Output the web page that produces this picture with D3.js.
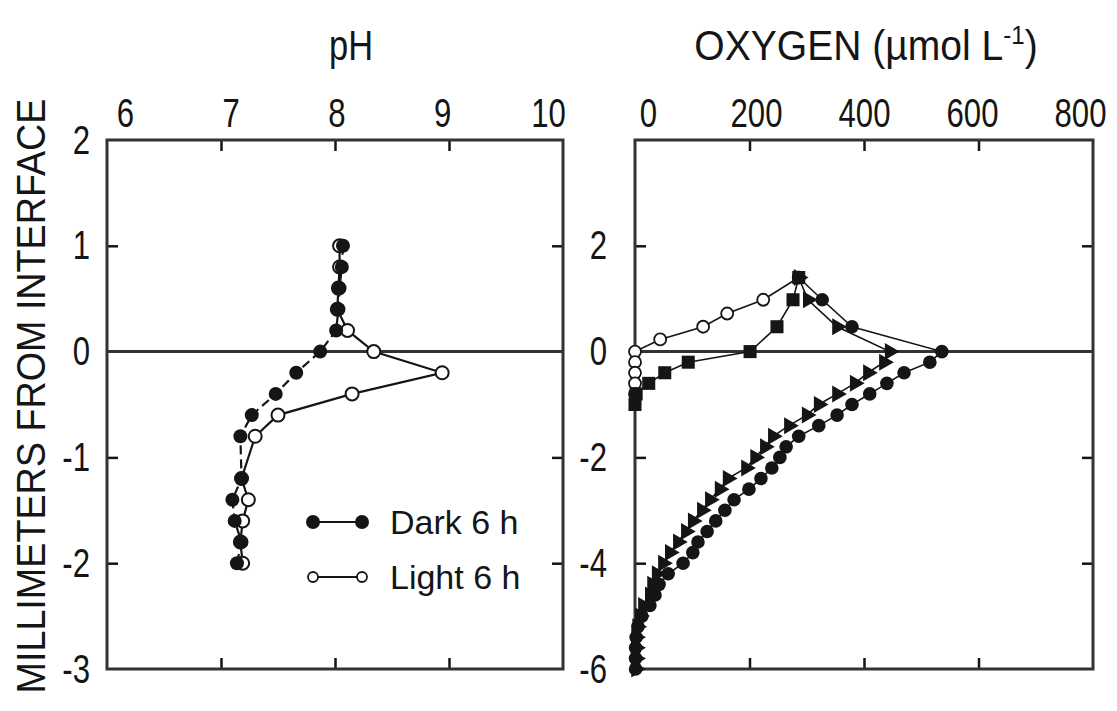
<!DOCTYPE html>
<html>
<head>
<meta charset="utf-8">
<script src="https://cdn.jsdelivr.net/npm/d3@7"></script>
<style>
  body { margin: 0; background: #fff; }
  svg text { fill: #151515; }
</style>
</head>
<body>
<svg id="chart" width="1117" height="711"></svg>
<script>
'use strict';

// ─── Data: pH panel ──────────────────────────────────────────────────────────
const phTicks  = [6, 7, 8, 9, 10];
const phDepthL = [2, 1, 0, -1, -2, -3];
const phDepth  = [1.0, 0.8, 0.6, 0.4, 0.2, 0, -0.2, -0.4, -0.6, -0.8, -1.2, -1.4, -1.6, -1.8, -2.0];
const phDark   = [8.07, 8.06, 8.04, 8.03, 8.01, 7.87, 7.66, 7.48, 7.27, 7.17, 7.18, 7.10, 7.12, 7.18, 7.14];
const phLight  = [8.04, 8.04, 8.03, 8.02, 8.11, 8.34, 8.94, 8.15, 7.50, 7.30, 7.18, 7.24, 7.19, 7.17, 7.19];
const legendLabels = ['Dark 6 h', 'Light 6 h'];

// ─── Data: oxygen panel ──────────────────────────────────────────────────────
const o2Ticks  = [0, 200, 400, 600, 800];
const o2DepthL = [2, 0, -2, -4, -6];
const openDepth = [1.4, 0.98, 0.72, 0.47, 0.23, 0, -0.2, -0.4, -0.6, -0.8];
const openO2    = [286, 224, 161, 119, 44, 0, 0, 0, 0, 0];
const squareDepth = [1.4, 0.98, 0.47, 0, -0.2, -0.4, -0.6, -0.8, -1.0];
const squareO2    = [286, 276, 248, 201, 93, 52, 24, 2, 0];
const profDepth = [1.4, 0.98, 0.47, 0, -0.2, -0.4, -0.6, -0.8, -1.0, -1.2, -1.4, -1.6, -1.8,
  -2.0, -2.2, -2.4, -2.6, -2.8, -3.0, -3.2, -3.4, -3.6, -3.8, -4.0, -4.2, -4.4, -4.6,
  -4.8, -5.0, -5.2, -5.4, -5.6, -5.8, -6.0];
const circleO2 = [286, 327, 379, 536, 515, 470, 440, 410, 379, 353, 321, 286, 264,
  253, 239, 220, 199, 173, 157, 141, 126, 110, 101, 84, 58, 42, 35,
  26, 12, 5, 2, 1, 1, 1];
const triangleO2 = [286, 302, 353, 445, 435, 407, 384, 353, 321, 300, 269, 241, 227,
  210, 194, 162, 148, 131, 117, 101, 89, 75, 61, 49, 38, 30, 26,
  14, 9, 4, 2, 2, 2, 2];

// ─── Layout ──────────────────────────────────────────────────────────────────
const INK   = '#151515';
const FRAME = '#333';
const yTop = 140, yBot = 669;
const L = { x0: 107, x1: 563 };
const R = { x0: 635, x1: 1093 };

const xPH  = d3.scaleLinear().domain([6, 10]).range([L.x0, L.x1]);
const yL   = d3.scaleLinear().domain([-3, 2]).range([yBot, yTop]);
const xO2  = d3.scaleLinear().domain([0, 800]).range([R.x0, R.x1]);
const yR   = d3.scaleLinear().domain([-6, 4]).range([yBot, yTop]);
// tick labels in the original sit slightly closer together than the ticks
const xPHLabel = d3.scaleLinear().domain([6, 10]).range([125, 548]);
const xO2Label = d3.scaleLinear().domain([0, 800]).range([648, 1080]);

const svg = d3.select('#chart');
const fmt = d => String(d);
const sans = "'Liberation Sans', Arial, Helvetica, sans-serif";

// ─── Titles ──────────────────────────────────────────────────────────────────
svg.append('text')
  .attr('transform', 'translate(351,60) scale(0.82,1)')
  .attr('text-anchor', 'middle')
  .attr('font-family', sans).attr('font-size', 42)
  .text('pH');

const oxy = svg.append('text')
  .attr('transform', 'translate(866,60) scale(0.93,1)')
  .attr('text-anchor', 'middle')
  .attr('font-family', sans).attr('font-size', 42);
oxy.append('tspan').text('OXYGEN (\u00b5mol L');
oxy.append('tspan').attr('dy', -16).attr('font-size', 26).text('-1');
oxy.append('tspan').attr('dy', 16).text(')');

svg.append('text')
  .attr('transform', 'translate(45,396) rotate(-90) scale(0.92,1)')
  .attr('text-anchor', 'middle')
  .attr('font-family', sans).attr('font-size', 41)
  .text('MILLIMETERS FROM INTERFACE');

// ─── Axis labels (condensed digits, as in the original) ─────────────────────
function labelAxis(axis, tx, ty) {
  const g = svg.append('g').attr('transform', `translate(${tx},${ty})`)
    .call(axis.tickSize(0).tickPadding(0).tickFormat(fmt));
  g.select('.domain').remove();
  g.selectAll('text')
    .attr('font-family', sans).attr('font-size', 41).attr('fill', INK)
    .attr('transform', 'scale(0.76,1)');
  return g;
}
labelAxis(d3.axisTop(xPHLabel).tickValues(phTicks), 0, 127);
labelAxis(d3.axisTop(xO2Label).tickValues(o2Ticks), 0, 127);
labelAxis(d3.axisLeft(yL).tickValues(phDepthL), 90, 0);
labelAxis(d3.axisLeft(yR).tickValues(o2DepthL), 607, 0);

// ─── Frames, inward ticks, zero line ─────────────────────────────────────────
function tickAxis(axis, tx, ty) {
  const g = svg.append('g').attr('transform', `translate(${tx},${ty})`)
    .call(axis.tickSize(11).tickFormat(''));
  g.select('.domain').remove();
  g.selectAll('line').attr('stroke', INK).attr('stroke-width', 2.5);
}
function panel(P, x, y, xVals, yVals) {
  tickAxis(d3.axisBottom(x).tickValues(xVals), 0, yTop);
  tickAxis(d3.axisTop(x).tickValues(xVals), 0, yBot);
  tickAxis(d3.axisRight(y).tickValues(yVals), P.x0, 0);
  tickAxis(d3.axisLeft(y).tickValues(yVals), P.x1, 0);
  svg.append('rect')
    .attr('x', P.x0).attr('y', yTop)
    .attr('width', P.x1 - P.x0).attr('height', yBot - yTop)
    .attr('fill', 'none').attr('stroke', FRAME).attr('stroke-width', 3);
  svg.append('line')
    .attr('x1', P.x0).attr('x2', P.x1)
    .attr('y1', y(0)).attr('y2', y(0))
    .attr('stroke', FRAME).attr('stroke-width', 3);
}
panel(L, xPH, yL, [7, 8, 9], [1, -1, -2]);
panel(R, xO2, yR, [200, 400, 600], [2, -2, -4]);

// ─── pH profiles ─────────────────────────────────────────────────────────────
const phLine = d3.line().x(d => xPH(d[0])).y(d => yL(d[1]));
const lightPts = phLight.map((v, i) => [v, phDepth[i]]);
const darkPts  = phDark.map((v, i) => [v, phDepth[i]]);

svg.append('path').attr('d', phLine(lightPts))
  .attr('fill', 'none').attr('stroke', INK).attr('stroke-width', 2.2);
svg.append('path').attr('d', phLine(darkPts))
  .attr('fill', 'none').attr('stroke', INK).attr('stroke-width', 2.2)
  .attr('stroke-dasharray', '9,5');

svg.append('g').selectAll('circle').data(lightPts).join('circle')
  .attr('cx', d => xPH(d[0])).attr('cy', d => yL(d[1])).attr('r', 6.5)
  .attr('fill', '#fff').attr('stroke', INK).attr('stroke-width', 2);
svg.append('g').selectAll('circle').data(darkPts).join('circle')
  .attr('cx', d => xPH(d[0])).attr('cy', d => yL(d[1])).attr('r', 7)
  .attr('fill', INK);

// legend
const leg = svg.append('g');
legendLabels.forEach((lab, i) => {
  const y = 522 + i * 55;
  const dark = i === 0;
  leg.append('line').attr('x1', 313).attr('x2', 362).attr('y1', y).attr('y2', y)
    .attr('stroke', INK).attr('stroke-width', 2);
  [313, 362].forEach(cx => {
    leg.append('circle').attr('cx', cx).attr('cy', y).attr('r', dark ? 7 : 5)
      .attr('fill', dark ? INK : '#fff').attr('stroke', INK).attr('stroke-width', dark ? 0 : 1.8);
  });
  leg.append('text').attr('x', 390).attr('y', y + 12)
    .attr('font-family', sans).attr('font-size', 34).text(lab);
});

// ─── Oxygen profiles ─────────────────────────────────────────────────────────
const o2Line = d3.line().x(d => xO2(d[0])).y(d => yR(d[1]));
const openPts   = openO2.map((v, i) => [v, openDepth[i]]);
const squarePts = squareO2.map((v, i) => [v, squareDepth[i]]);
const circlePts = circleO2.map((v, i) => [v, profDepth[i]]);
const triPts    = triangleO2.map((v, i) => [v, profDepth[i]]);

[openPts, triPts, circlePts, squarePts].forEach(pts => {
  svg.append('path').attr('d', o2Line(pts))
    .attr('fill', 'none').attr('stroke', INK).attr('stroke-width', 1.6);
});

svg.append('g').selectAll('path').data(triPts).join('path')
  .attr('d', d3.symbol(d3.symbolTriangle, 125))
  .attr('transform', d => `translate(${xO2(d[0])},${yR(d[1])}) rotate(90)`)
  .attr('fill', INK);
svg.append('g').selectAll('circle').data(circlePts).join('circle')
  .attr('cx', d => xO2(d[0])).attr('cy', d => yR(d[1])).attr('r', 6.8)
  .attr('fill', INK);
svg.append('g').selectAll('circle').data(openPts).join('circle')
  .attr('cx', d => xO2(d[0])).attr('cy', d => yR(d[1])).attr('r', 6)
  .attr('fill', '#fff').attr('stroke', INK).attr('stroke-width', 1.8);
svg.append('g').selectAll('path').data(squarePts).join('path')
  .attr('d', d3.symbol(d3.symbolSquare, 170))
  .attr('transform', d => `translate(${xO2(d[0])},${yR(d[1])})`)
  .attr('fill', INK);
</script>
</body>
</html>
